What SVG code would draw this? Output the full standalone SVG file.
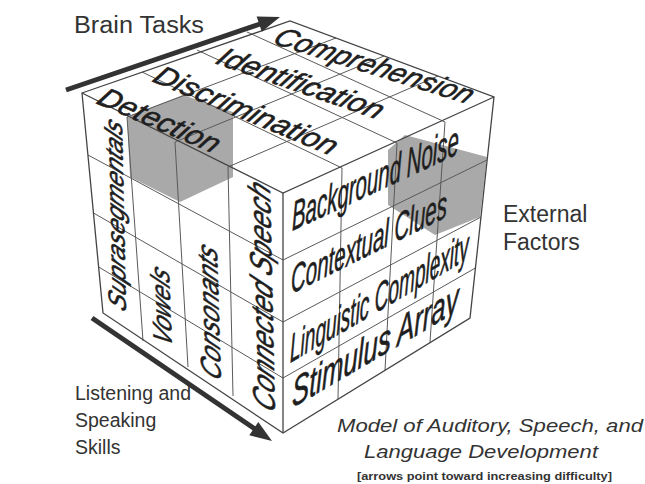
<svg xmlns="http://www.w3.org/2000/svg" width="645" height="484" viewBox="0 0 645 484">
<defs>
<style>
.face{fill:#ffffff;stroke:none}
.shade{fill:#a9a9a9;stroke:none}
.grid{fill:none;stroke:#5a5a5a;stroke-width:1}
.edge{fill:none;stroke:#444;stroke-width:1.3}
.cube{font-family:"Liberation Sans",Arial,sans-serif;font-style:italic;fill:#1e1e1e;stroke:#1e1e1e;stroke-width:0.6}
.lbl{font-family:"Liberation Sans",Arial,sans-serif;font-size:23px;fill:#333}
.lbl2{font-family:"Liberation Sans",Arial,sans-serif;font-size:19.5px;fill:#333}
.cap{font-family:"Liberation Sans",Arial,sans-serif;font-style:italic;font-size:19px;fill:#333}
.note{font-family:"Liberation Sans",Arial,sans-serif;font-weight:bold;font-size:11px;fill:#333}
.arrowline{stroke:#333;stroke-width:5;fill:none}
.arrowhead{fill:#333;stroke:none}
</style>
</defs>
<rect width="645" height="484" fill="#ffffff"/>

<g id="cube-faces">
<polygon class="face" points="82,93 290,21 494,97 283,193"/>
<polygon class="face" points="82,93 283,193 283,433 103,313"/>
<polygon class="face" points="283,193 494,97 470,318 283,433"/>
<polygon class="shade" points="127,117 183,95 233,112 233,177 180,202 130,177"/>
<polygon class="shade" points="388,150 405,135 487,157 480,217 435,235 388,205"/>
</g>

<g id="grid">
<line class="grid" x1="142" y1="72" x2="342" y2="168"/>
<line class="grid" x1="197" y1="50" x2="397" y2="143"/>
<line class="grid" x1="247" y1="32" x2="445" y2="122"/>
<line class="grid" x1="127" y1="117" x2="336" y2="38"/>
<line class="grid" x1="175" y1="142" x2="384" y2="56"/>
<line class="grid" x1="228" y1="167" x2="438" y2="76"/>
<line class="grid" x1="127" y1="117" x2="143" y2="341"/>
<line class="grid" x1="175" y1="142" x2="188" y2="367"/>
<line class="grid" x1="228" y1="167" x2="233" y2="396"/>
<line class="grid" x1="88" y1="155" x2="283" y2="260"/>
<line class="grid" x1="93.5" y1="213" x2="283" y2="322"/>
<line class="grid" x1="98.7" y1="267" x2="283" y2="378"/>
<line class="grid" x1="342" y1="168" x2="338" y2="399"/>
<line class="grid" x1="397" y1="143" x2="385" y2="370"/>
<line class="grid" x1="445" y1="122" x2="430" y2="342"/>
<line class="grid" x1="283" y1="260" x2="487" y2="160"/>
<line class="grid" x1="283" y1="322" x2="481" y2="217"/>
<line class="grid" x1="283" y1="378" x2="475.4" y2="268"/>
<polygon class="edge" points="82,93 290,21 494,97 470,318 283,433 103,313"/>
<polyline class="edge" points="82,93 283,193 494,97"/>
<line class="edge" x1="283" y1="193" x2="283" y2="433"/>
</g>

<g id="top-labels" class="cube" font-size="29">
<text transform="matrix(0.920 0.393 -0.6 0.8 95 103)" textLength="128" lengthAdjust="spacingAndGlyphs">Detection</text>
<text transform="matrix(0.923 0.384 -0.6 0.8 151 81)" textLength="194" lengthAdjust="spacingAndGlyphs">Discrimination</text>
<text transform="matrix(0.945 0.327 -0.6 0.8 214 63)" textLength="172" lengthAdjust="spacingAndGlyphs">Identification</text>
<text transform="matrix(0.955 0.297 -0.6 0.8 271 43)" textLength="205" lengthAdjust="spacingAndGlyphs">Comprehension</text>
</g>

<g id="left-labels" class="cube">
<text font-size="28" transform="matrix(-0.021 -1 0.895 0.447 126 313)" textLength="189" lengthAdjust="spacingAndGlyphs">Suprasegmentals</text>
<text font-size="30" transform="matrix(-0.04 -0.999 0.895 0.447 172 348)" textLength="76" lengthAdjust="spacingAndGlyphs">Vowels</text>
<text font-size="32" transform="matrix(-0.0305 -0.9995 0.895 0.447 221 382)" textLength="132" lengthAdjust="spacingAndGlyphs">Consonants</text>
<text font-size="35" transform="matrix(-0.022 -1 0.895 0.447 275 414)" textLength="226" lengthAdjust="spacingAndGlyphs">Connected Speech</text>
</g>

<g id="right-labels" class="cube">
<text font-size="41" transform="matrix(0.907 -0.421 0 1 292 231)" textLength="184" lengthAdjust="spacingAndGlyphs">Background Noise</text>
<text font-size="39" transform="matrix(0.896 -0.445 0 1 291 294)" textLength="174" lengthAdjust="spacingAndGlyphs">Contextual Clues</text>
<text font-size="40" transform="matrix(0.864 -0.505 0 1 290 363)" textLength="207" lengthAdjust="spacingAndGlyphs">Linguistic Complexity</text>
<text font-size="41" transform="matrix(0.863 -0.504 0 1 292 408)" textLength="193" lengthAdjust="spacingAndGlyphs">Stimulus Array</text>
</g>

<g id="connectors">
<line class="arrowline" x1="66" y1="90" x2="260" y2="24"/>
<polygon class="arrowhead" points="280,17 261.8,31.7 256.6,16.5"/>
<line class="arrowline" x1="92" y1="318" x2="255" y2="429"/>
<polygon class="arrowhead" points="272,441 249.3,435.2 258.3,422"/>
</g>

<g id="brain-tasks"><text class="lbl" x="74" y="33" textLength="130" lengthAdjust="spacingAndGlyphs">Brain Tasks</text></g>
<g id="external-factors">
<text class="lbl" x="503" y="222">External</text>
<text class="lbl" x="503" y="250">Factors</text>
</g>
<g id="listening-skills">
<text class="lbl2" x="75" y="400">Listening and</text>
<text class="lbl2" x="75" y="427">Speaking</text>
<text class="lbl2" x="75" y="454">Skills</text>
</g>
<g id="caption">
<text class="cap" x="337" y="432" textLength="306" lengthAdjust="spacingAndGlyphs">Model of Auditory, Speech, and</text>
<text class="cap" x="364" y="458" textLength="234" lengthAdjust="spacingAndGlyphs">Language Development</text>
<text class="note" x="357" y="480" textLength="255" lengthAdjust="spacingAndGlyphs">[arrows point toward increasing difficulty]</text>
</g>
</svg>
